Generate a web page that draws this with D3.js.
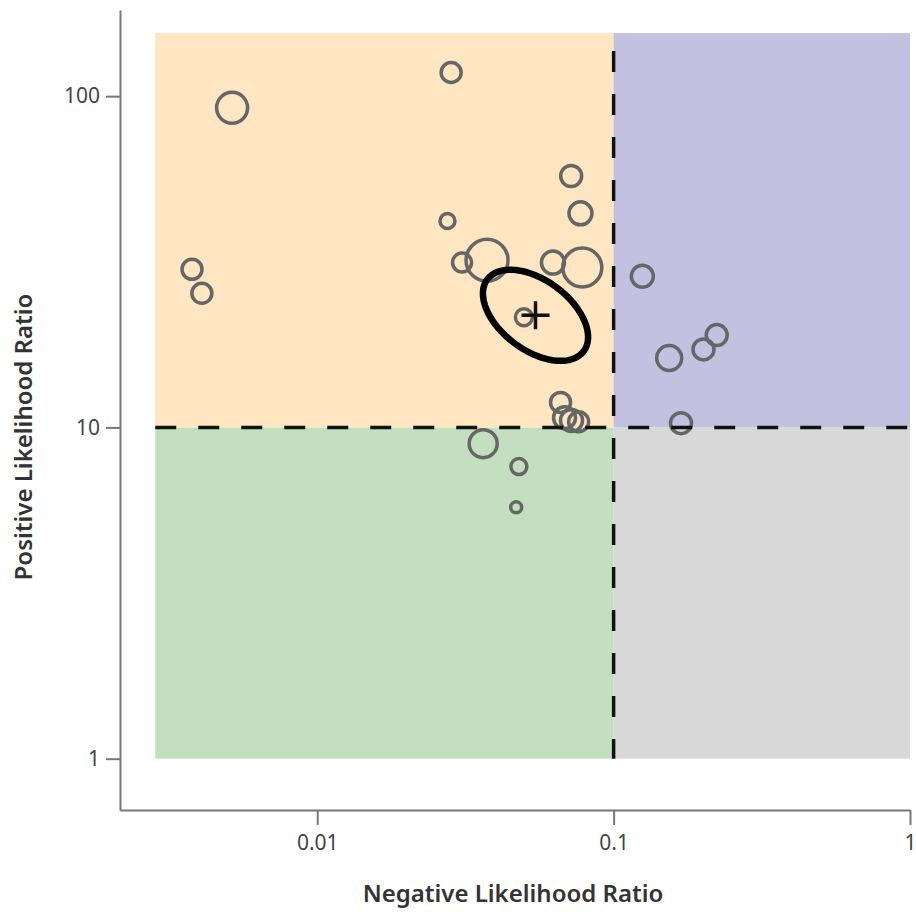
<!DOCTYPE html>
<html>
<head>
<meta charset="utf-8">
<script src="https://cdn.jsdelivr.net/npm/d3@7"></script>
<style>
  body { margin: 0; background: #fff; }
</style>
</head>
<body>
<div id="chart"></div>
<script>
var svgWidth = 916;
var svgHeight = 915;

// studies: negative LR, positive LR, weight (circle area)
var negLR = [0.00516, 0.0283, 0.00378, 0.00408, 0.0275, 0.0719, 0.0773, 0.0308, 0.0374, 0.0624, 0.0784, 0.0498,
  0.0662, 0.0683, 0.0721, 0.0762, 0.0363, 0.0479, 0.0469, 0.125, 0.154, 0.201, 0.2228, 0.1688];
var posLR = [92.2, 117.9, 30.0, 25.4, 42.0, 57.4, 44.3, 31.45, 31.96, 31.45, 30.4, 21.5,
  11.9, 10.7, 10.5, 10.4, 8.93, 7.62, 5.74, 28.6, 16.2, 17.2, 19.0, 10.3];
var weight = [240, 100, 100, 100, 56, 110, 132, 90, 441, 132, 380, 72,
  100, 121, 121, 100, 196, 64, 30, 121, 156, 110, 110, 110];

// summary point and its confidence ellipse (axis vectors in log10 units)
var summary = { negLR: 0.0545, posLR: 21.8 };
var ellipseU = [0.163, -0.108];
var ellipseV = [-0.070, -0.085];

// quadrant bounds
var xBreaks = [0.00284, 0.1, 1];
var yBreaks = [1, 10, 155];
var quadColors = [["#c3dfc0", "#d9d8d8"], ["#fde6c1", "#c4c0e0"]];

var xTicks = [0.01, 0.1, 1];
var yTicks = [1, 10, 100];
var xTickLabels = ["0.01", "0.1", "1"];
var yTickLabels = ["1", "10", "100"];

var svg = d3.select("#chart")
  .append("svg")
  .attr("width", svgWidth)
  .attr("height", svgHeight);

var x = d3.scaleLog().domain([0.00216, 1]).range([120, 910]);
var y = d3.scaleLog().domain([0.70, 182]).range([810, 10]);
var r = d3.scaleSqrt().domain([0, 441]).range([0, 21]);

// quadrants
for (var i = 0; i < 2; i++) {
  for (var j = 0; j < 2; j++) {
    svg.append("rect")
      .attr("x", x(xBreaks[j]))
      .attr("y", y(yBreaks[i + 1]))
      .attr("width", x(xBreaks[j + 1]) - x(xBreaks[j]))
      .attr("height", y(yBreaks[i]) - y(yBreaks[i + 1]))
      .attr("fill", quadColors[i][j]);
  }
}

// axes
var bottomAxis = d3.axisBottom(x).tickValues(xTicks)
  .tickFormat((d, i) => xTickLabels[i]).tickSizeInner(15).tickSizeOuter(0).tickPadding(10);
var leftAxis = d3.axisLeft(y).tickValues(yTicks)
  .tickFormat((d, i) => yTickLabels[i]).tickSizeInner(14).tickSizeOuter(0).tickPadding(6);

var gx = svg.append("g").attr("transform", `translate(0, ${y.range()[0]})`).call(bottomAxis);
var gy = svg.append("g").attr("transform", `translate(${x.range()[0]}, 0)`).call(leftAxis);
[gx, gy].forEach(g => {
  g.attr("font-family", "Noto Sans, sans-serif").attr("font-size", 21);
  g.select(".domain").attr("stroke", "#777").attr("stroke-width", 2);
  g.selectAll(".tick line").attr("stroke", "#777").attr("stroke-width", 2);
  g.selectAll(".tick text").attr("fill", "#444");
});

// study circles
svg.selectAll("circle.study")
  .data(negLR)
  .enter()
  .append("circle")
  .attr("class", "study")
  .attr("cx", d => x(d))
  .attr("cy", (d, i) => y(posLR[i]))
  .attr("r", (d, i) => r(weight[i]))
  .attr("fill", "none")
  .attr("stroke", "#666")
  .attr("stroke-width", 3.5);

// dashed threshold lines
svg.append("line")
  .attr("x1", x(0.1)).attr("x2", x(0.1))
  .attr("y1", y(yBreaks[2])).attr("y2", y(yBreaks[0]))
  .attr("stroke", "#111").attr("stroke-width", 3.5)
  .attr("stroke-dasharray", "21,22").attr("stroke-dashoffset", 25);
svg.append("line")
  .attr("x1", x(xBreaks[0])).attr("x2", x(xBreaks[2]))
  .attr("y1", y(10)).attr("y2", y(10))
  .attr("stroke", "#111").attr("stroke-width", 3.5)
  .attr("stroke-dasharray", "21,22");

// confidence ellipse
var lx = Math.log10(summary.negLR), ly = Math.log10(summary.posLR);
var pts = d3.range(0, 2 * Math.PI + 0.01, Math.PI / 60).map(t => [
  Math.pow(10, lx + ellipseU[0] * Math.cos(t) + ellipseV[0] * Math.sin(t)),
  Math.pow(10, ly + ellipseU[1] * Math.cos(t) + ellipseV[1] * Math.sin(t))
]);
svg.append("path")
  .attr("d", d3.line().x(d => x(d[0])).y(d => y(d[1]))(pts))
  .attr("fill", "none").attr("stroke", "#000").attr("stroke-width", 6.5);

// summary cross
var cx = x(summary.negLR), cy = y(summary.posLR);
svg.append("path")
  .attr("d", `M${cx - 14},${cy}H${cx + 14}M${cx},${cy - 14}V${cy + 14}`)
  .attr("stroke", "#111").attr("stroke-width", 3.5);

// axis titles
svg.append("text")
  .attr("x", 513)
  .attr("y", 902)
  .attr("text-anchor", "middle")
  .attr("font-family", "Noto Sans, sans-serif")
  .attr("font-size", 24)
  .attr("font-weight", 600)
  .attr("fill", "#333")
  .text("Negative Likelihood Ratio");

svg.append("text")
  .attr("transform", "translate(32, 437) rotate(-90)")
  .attr("text-anchor", "middle")
  .attr("font-family", "Noto Sans, sans-serif")
  .attr("font-size", 24)
  .attr("font-weight", 600)
  .attr("fill", "#333")
  .text("Positive Likelihood Ratio");
</script>
</body>
</html>
